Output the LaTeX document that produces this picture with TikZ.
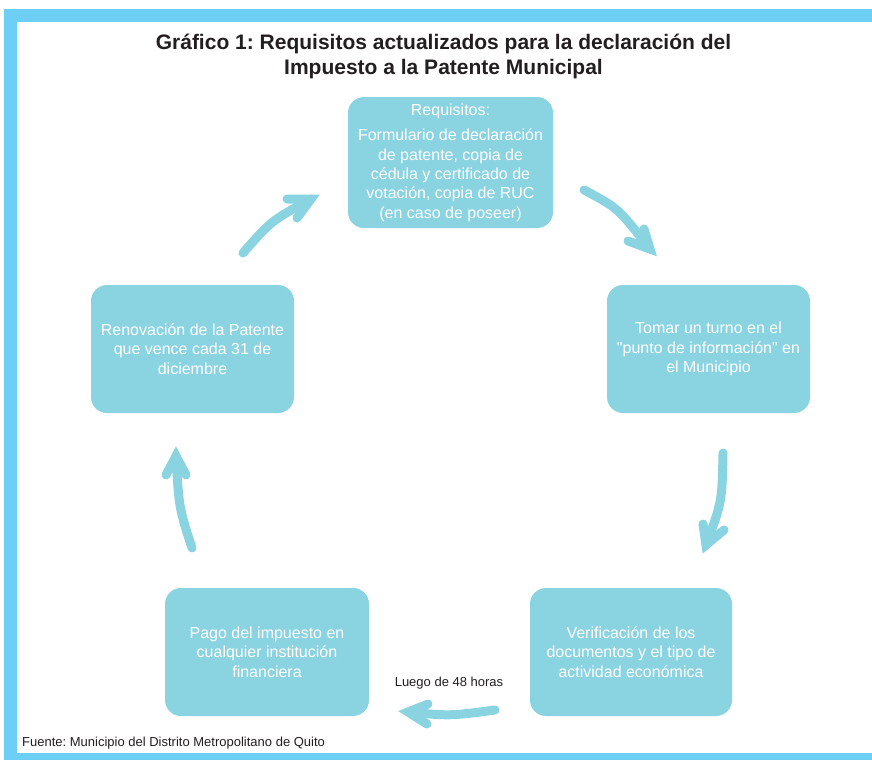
\documentclass[tikz,border=0pt]{standalone}
\usepackage{fontspec}
\setmainfont{Liberation Sans}
\frenchspacing
\definecolor{framecol}{HTML}{6DCFF6}
\definecolor{boxcol}{HTML}{8AD3E1}
\definecolor{titlecol}{HTML}{231F20}
\begin{document}
\begin{tikzpicture}[x=1pt,y=-1pt,
  box/.style={fill=boxcol, rounded corners=16pt, text=white, align=center,
    font=\fontsize{16}{19.3}\selectfont, inner sep=0pt},
  arr/.style={draw=boxcol, line width=9pt, line cap=round},
  head/.style={draw=boxcol, line width=9pt, line cap=round, line join=miter},
  small/.style={font=\fontsize{13}{15}\selectfont, text=titlecol, inner sep=0pt}]
\useasboundingbox (0,0) rectangle (872,760);
\fill[white] (0,0) rectangle (872,760);
% frame
\fill[framecol] (4,9) rectangle (872,22);
\fill[framecol] (4,9) rectangle (17,760);
\fill[framecol] (4,753) rectangle (872,760);
% title
\node[align=center, text=titlecol, inner sep=0pt,
  font=\fontsize{21}{25}\selectfont\bfseries] (title) at (443.5,56.5)
  {Gráfico 1: Requisitos actualizados para la declaración del\\Impuesto a la Patente Municipal};
% boxes
\node[box, minimum width=205pt, minimum height=131pt] (req) at (450.5,162.5)
  {Requisitos:\\[6.5pt]Formulario de declaración\\de patente, copia de\\cédula y certificado de\\votación, copia de RUC\\(en caso de poseer)};
\node[box, minimum width=203pt, minimum height=128pt] (turno) at (708.5,349)
  {Tomar un turno en el\\\textquotedbl punto de información\textquotedbl{} en\\el Municipio};
\node[box, minimum width=202pt, minimum height=128pt] (verif) at (631,652)
  {Verificación de los\\documentos y el tipo de\\actividad económica};
\node[box, minimum width=204pt, minimum height=128pt] (pago) at (267,652)
  {Pago del impuesto en\\cualquier institución\\financiera};
\node[box, minimum width=203pt, minimum height=128pt] (renov) at (192.5,349)
  {Renovación de la Patente\\que vence cada 31 de\\diciembre};
% arrow 1: renov -> req
\coordinate (a1s) at (243,253);
\coordinate (a1t) at (311,199);
\draw[arr] (a1s) .. controls (271,221) .. (a1t);
\draw[head] (287,199) -- (a1t) -- (297,218);
% arrow 2: req -> turno
\coordinate (a2s) at (584,190);
\coordinate (a2t) at (650,249);
\draw[arr] (a2s) .. controls (618,208) .. (a2t);
\draw[head] (644,229) -- (a2t) -- (628,241);
% arrow 3: turno -> verif
\coordinate (a3s) at (723,453);
\coordinate (a3t) at (706,545);
\draw[arr] (a3s) .. controls (722,502) .. (a3t);
\draw[head] (703,524) -- (a3t) -- (724,530);
% arrow 4: verif -> pago
\coordinate (a4s) at (495,710);
\coordinate (a4t) at (408,712);
\draw[arr] (a4s) .. controls (450,716) .. (a4t);
\draw[head] (428,704) -- (a4t) -- (427,724);
% arrow 5: pago -> renov
\coordinate (a5s) at (192,548);
\coordinate (a5t) at (176,456);
\draw[arr] (a5s) .. controls (179,508) .. (a5t);
\draw[head] (166,475) -- (a5t) -- (186,475);
% labels
\node[small] (luego) at (449,683) {Luego de 48 horas};
\node[small, anchor=west] (fuente) at (22,743) {Fuente: Municipio del Distrito Metropolitano de Quito};
\end{tikzpicture}
\end{document}
